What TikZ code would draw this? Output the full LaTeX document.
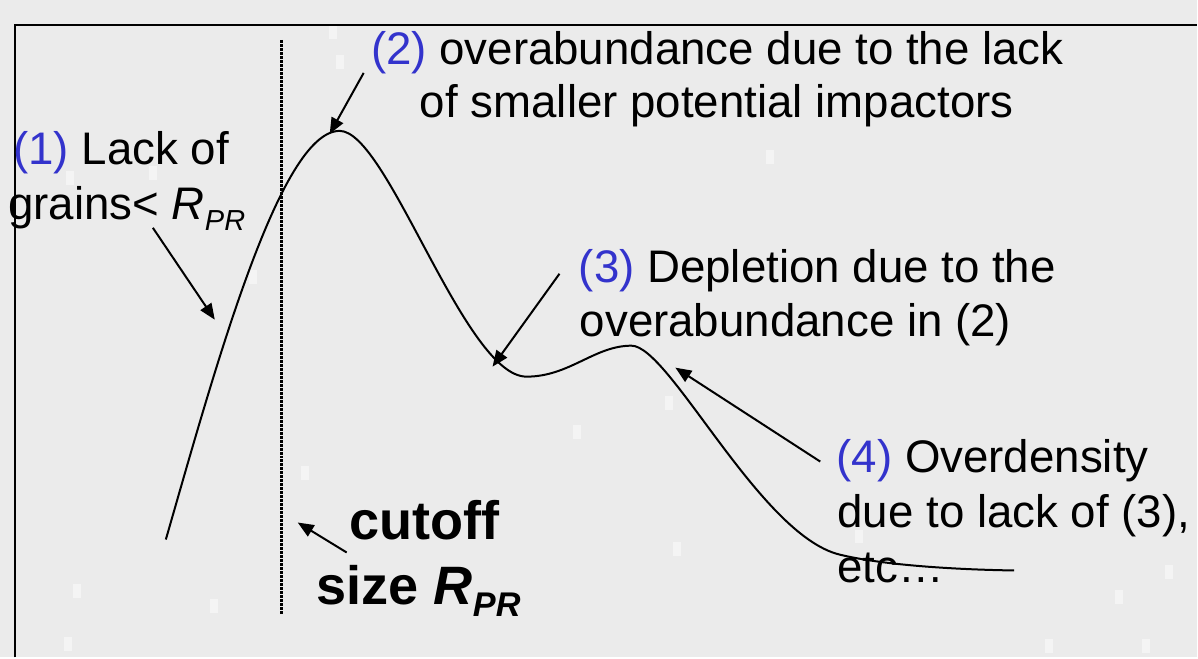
\documentclass[tikz,border=0pt]{standalone}
\usepackage{fontspec}
\setmainfont{Liberation Sans}
\usepackage{xcolor}
\usetikzlibrary{arrows.meta}
\definecolor{fundo}{RGB}{235,235,235}
\definecolor{azul}{RGB}{51,51,204}
\newcommand{\nr}[1]{\textcolor{azul}{(#1)}}
\newcommand{\rpr}[1]{\textit{R}\raisebox{-0.23em}{\fontsize{#1}{#1}\selectfont\itshape PR}}

\begin{document}
\begin{tikzpicture}[
  x=0.02cm, y=-0.02cm,
  txt/.style = {anchor=base west, inner sep=0pt, font=\fontsize{26}{31}\selectfont},
  big/.style = {anchor=base, inner sep=0pt, font=\fontsize{30.8}{36}\selectfont\bfseries},
  seta/.style = {-{Triangle[length=0.32cm, width=0.26cm]}, line width=0.04cm},
  corte/.style = {line width=0.05cm, dash pattern=on 0.06cm off 0.02cm},
  curva/.style = {line width=0.04cm},
]
\fill[fundo] (0,0) rectangle (1198,658);
\foreach \x/\y in {333/32, 340/62, 70/178, 153/173, 253/277, 305/473, 77/592, 214/607, 68/645, 1170/573, 1120/598, 1050/647, 1147/647, 670/403, 678/550, 860/537, 771/157, 578/432}
  \fill[white, opacity=0.45] (\x-4,\y-7) rectangle (\x+4,\y+7);
\draw[line width=0.045cm] (15,658) |- (1198,25);

\node[txt] (l1a) at (13,165) {\nr{1} Lack of};
\node[txt] (l1b) at (8,220) {grains< \rpr{16.5}};
\node[txt] (l2a) at (371,65) {\nr{2} overabundance due to the lack};
\node[txt] (l2b) at (420,118) {of smaller potential impactors};
\node[txt] (l3a) at (579,283) {\nr{3} Depletion due to the};
\node[txt] (l3b) at (580,337) {overabundance in (2)};
\node[txt] (l4a) at (837,473) {\nr{4} Overdensity};
\node[txt] (l4b) at (838,528) {due to lack of (3),};
\node[txt] (l4c) at (838,583) {etc…};
\node[big] (cut) at (425,540) {cutoff};
\node[big] (size) at (419,605) {size \rpr{19.5}};

\coordinate (ctop) at (282,40); \coordinate (cbot) at (282,615);
\draw[corte] (ctop) -- (cbot);

\draw[curva] (166,540) .. controls (215,370) and (280,131) .. (340,131)
  .. controls (388,131) and (465,377) .. (527,377)
  .. controls (570,377) and (595,346) .. (632,346)
  .. controls (670,346) and (760,535) .. (840,555)
  .. controls (880,565) and (950,570) .. (1015,571);

\coordinate (t1) at (153,228); \coordinate (h1) at (215,320);
\coordinate (t2) at (364,73);  \coordinate (h2) at (330,134);
\coordinate (t3) at (560,274); \coordinate (h3) at (493,367);
\coordinate (t4) at (821,462); \coordinate (h4) at (676,368);
\coordinate (t5) at (347,553); \coordinate (h5) at (298,523);
\draw[seta] (t1) -- (h1); \draw[seta] (t2) -- (h2); \draw[seta] (t3) -- (h3);
\draw[seta] (t4) -- (h4); \draw[seta] (t5) -- (h5);
\end{tikzpicture}
\end{document}
